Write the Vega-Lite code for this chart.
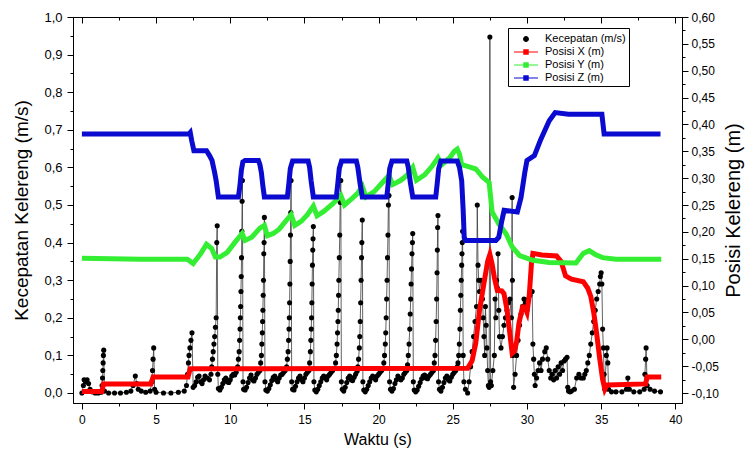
{
"$schema": "https://vega.github.io/schema/vega-lite/v6.json",
"width": 609, "height": 386,
"autosize": {"type": "none"},
"padding": {"left": 73, "top": 17, "right": 64, "bottom": 57},
"background": "white",
"config": {
 "view": {"stroke": "black", "strokeWidth": 1},
 "font": "Liberation Sans",
 "axis": {"grid": false, "domainColor": "black", "domainWidth": 1, "tickColor": "black", "tickWidth": 1, "labelColor": "black", "titleColor": "black", "labelFont": "Liberation Sans", "titleFont": "Liberation Sans", "titleFontWeight": "normal", "labelFontSize": 12, "titleFontSize": 15, "labelOverlap": false, "labelFlush": false}
},
"datasets": {
"speed": [
{"t":0,"v":0},{"t":0.1,"v":0.02},{"t":0.15,"v":0.035},{"t":0.25,"v":0.03},{"t":0.35,"v":0.035},{"t":0.45,"v":0.025},{"t":0.55,"v":0.01},{"t":0.7,"v":0.003},{"t":0.9,"v":0},{"t":1.1,"v":0},{"t":1.3,"v":0.002},{"t":1.36,"v":0.02},{"t":1.39,"v":0.04},{"t":1.41,"v":0.06},{"t":1.43,"v":0.08},{"t":1.45,"v":0.1},{"t":1.47,"v":0.114},{"t":1.52,"v":0.005},{"t":1.8,"v":0},{"t":2.2,"v":0},{"t":2.6,"v":0},{"t":3.0,"v":0.002},{"t":3.3,"v":0.005},{"t":3.45,"v":0.02},{"t":3.6,"v":0.045},{"t":3.7,"v":0.025},{"t":3.8,"v":0.01},{"t":4.0,"v":0.005},{"t":4.3,"v":0.002},{"t":4.6,"v":0.005},{"t":4.72,"v":0.03},{"t":4.76,"v":0.06},{"t":4.8,"v":0.09},{"t":4.84,"v":0.12},{"t":4.9,"v":0.01},{"t":5.0,"v":0.002},{"t":5.5,"v":0},{"t":6.0,"v":0},{"t":6.5,"v":0.002},{"t":6.9,"v":0.005},{"t":7.05,"v":0.02},{"t":7.12,"v":0.05},{"t":7.18,"v":0.08},{"t":7.22,"v":0.1},{"t":7.28,"v":0.12},{"t":7.35,"v":0.14},{"t":7.42,"v":0.16},{"t":7.5,"v":0.015},
{"t":7.6,"v":0.02},{"t":7.7,"v":0.03},{"t":7.8,"v":0.042},{"t":7.9,"v":0.045},{"t":8.0,"v":0.03},{"t":8.1,"v":0.025},{"t":8.2,"v":0.035},{"t":8.3,"v":0.045},{"t":8.45,"v":0.04},{"t":8.6,"v":0.035},{"t":8.7,"v":0.05},{"t":8.75,"v":0.07},{"t":8.8,"v":0.09},{"t":8.85,"v":0.11},{"t":8.9,"v":0.13},{"t":8.95,"v":0.15},{"t":9.0,"v":0.175},{"t":9.05,"v":0.2},{"t":9.09,"v":0.4},{"t":9.12,"v":0.445},
{"t":9.16,"v":0.05},{"t":9.2,"v":0.012},{"t":9.3,"v":0.008},{"t":9.4,"v":0.015},{"t":9.5,"v":0.025},{"t":9.6,"v":0.035},{"t":9.7,"v":0.04},{"t":9.8,"v":0.03},{"t":9.9,"v":0.028},{"t":10.0,"v":0.035},{"t":10.1,"v":0.045},{"t":10.2,"v":0.05},{"t":10.3,"v":0.048},{"t":10.4,"v":0.055},{"t":10.5,"v":0.07},{"t":10.55,"v":0.09},{"t":10.6,"v":0.11},{"t":10.63,"v":0.14},{"t":10.66,"v":0.17},{"t":10.68,"v":0.2},{"t":10.7,"v":0.23},{"t":10.72,"v":0.27},{"t":10.74,"v":0.31},{"t":10.76,"v":0.36},{"t":10.78,"v":0.43},{"t":10.8,"v":0.51},{"t":10.82,"v":0.565},
{"t":10.86,"v":0.03},{"t":10.9,"v":0.01},{"t":11.0,"v":0.008},{"t":11.1,"v":0.015},{"t":11.2,"v":0.028},{"t":11.3,"v":0.04},{"t":11.4,"v":0.048},{"t":11.5,"v":0.035},{"t":11.6,"v":0.032},{"t":11.7,"v":0.04},{"t":11.8,"v":0.05},{"t":11.9,"v":0.055},{"t":12.0,"v":0.06},{"t":12.05,"v":0.08},{"t":12.1,"v":0.1},{"t":12.13,"v":0.13},{"t":12.16,"v":0.16},{"t":12.18,"v":0.19},{"t":12.2,"v":0.22},{"t":12.22,"v":0.26},{"t":12.24,"v":0.3},{"t":12.26,"v":0.37},{"t":12.28,"v":0.4},{"t":12.3,"v":0.467},
{"t":12.34,"v":0.03},{"t":12.4,"v":0.008},{"t":12.5,"v":0.005},{"t":12.6,"v":0.012},{"t":12.7,"v":0.022},{"t":12.8,"v":0.033},{"t":12.9,"v":0.042},{"t":13.0,"v":0.045},{"t":13.1,"v":0.035},{"t":13.2,"v":0.03},{"t":13.3,"v":0.04},{"t":13.4,"v":0.048},{"t":13.5,"v":0.05},{"t":13.6,"v":0.055},{"t":13.7,"v":0.06},{"t":13.8,"v":0.07},{"t":13.85,"v":0.09},{"t":13.9,"v":0.11},{"t":13.93,"v":0.14},{"t":13.96,"v":0.17},{"t":13.98,"v":0.2},{"t":14.0,"v":0.24},{"t":14.02,"v":0.29},{"t":14.04,"v":0.35},{"t":14.06,"v":0.42},{"t":14.08,"v":0.48},{"t":14.1,"v":0.565},
{"t":14.14,"v":0.03},{"t":14.2,"v":0.01},{"t":14.3,"v":0.008},{"t":14.4,"v":0.018},{"t":14.5,"v":0.03},{"t":14.6,"v":0.04},{"t":14.7,"v":0.045},{"t":14.8,"v":0.035},{"t":14.9,"v":0.03},{"t":15.0,"v":0.04},{"t":15.1,"v":0.05},{"t":15.2,"v":0.055},{"t":15.3,"v":0.06},{"t":15.35,"v":0.08},{"t":15.4,"v":0.11},{"t":15.43,"v":0.14},{"t":15.46,"v":0.17},{"t":15.48,"v":0.2},{"t":15.5,"v":0.24},{"t":15.52,"v":0.29},{"t":15.54,"v":0.34},{"t":15.56,"v":0.38},{"t":15.58,"v":0.41},{"t":15.6,"v":0.443},
{"t":15.64,"v":0.03},{"t":15.7,"v":0.008},{"t":15.8,"v":0.003},{"t":15.9,"v":0.01},{"t":16.0,"v":0.02},{"t":16.1,"v":0.03},{"t":16.2,"v":0.04},{"t":16.3,"v":0.045},{"t":16.4,"v":0.04},{"t":16.5,"v":0.035},{"t":16.6,"v":0.045},{"t":16.7,"v":0.05},{"t":16.8,"v":0.055},{"t":16.9,"v":0.06},{"t":17.0,"v":0.065},{"t":17.1,"v":0.08},{"t":17.15,"v":0.1},{"t":17.2,"v":0.13},{"t":17.23,"v":0.16},{"t":17.26,"v":0.19},{"t":17.28,"v":0.22},{"t":17.3,"v":0.26},{"t":17.32,"v":0.3},{"t":17.35,"v":0.36},{"t":17.38,"v":0.42},{"t":17.41,"v":0.507},{"t":17.45,"v":0.565},
{"t":17.49,"v":0.03},{"t":17.55,"v":0.01},{"t":17.65,"v":0.005},{"t":17.75,"v":0.015},{"t":17.85,"v":0.028},{"t":17.95,"v":0.04},{"t":18.05,"v":0.045},{"t":18.15,"v":0.035},{"t":18.25,"v":0.033},{"t":18.35,"v":0.042},{"t":18.45,"v":0.05},{"t":18.55,"v":0.058},{"t":18.6,"v":0.07},{"t":18.65,"v":0.09},{"t":18.7,"v":0.12},{"t":18.73,"v":0.15},{"t":18.76,"v":0.19},{"t":18.79,"v":0.24},{"t":18.82,"v":0.3},{"t":18.85,"v":0.36},{"t":18.87,"v":0.4},{"t":18.9,"v":0.46},
{"t":18.94,"v":0.03},{"t":19.0,"v":0.008},{"t":19.1,"v":0.003},{"t":19.2,"v":0.01},{"t":19.3,"v":0.02},{"t":19.4,"v":0.03},{"t":19.5,"v":0.04},{"t":19.6,"v":0.045},{"t":19.7,"v":0.04},{"t":19.8,"v":0.035},{"t":19.9,"v":0.045},{"t":20.0,"v":0.05},{"t":20.1,"v":0.055},{"t":20.2,"v":0.06},{"t":20.3,"v":0.065},{"t":20.35,"v":0.08},{"t":20.4,"v":0.1},{"t":20.45,"v":0.13},{"t":20.48,"v":0.16},{"t":20.51,"v":0.2},{"t":20.54,"v":0.25},{"t":20.57,"v":0.3},{"t":20.6,"v":0.36},{"t":20.63,"v":0.42},{"t":20.66,"v":0.5},{"t":20.7,"v":0.525},
{"t":20.74,"v":0.03},{"t":20.8,"v":0.01},{"t":20.9,"v":0.005},{"t":21.0,"v":0.012},{"t":21.1,"v":0.025},{"t":21.2,"v":0.035},{"t":21.3,"v":0.045},{"t":21.4,"v":0.04},{"t":21.5,"v":0.035},{"t":21.6,"v":0.04},{"t":21.7,"v":0.05},{"t":21.8,"v":0.055},{"t":21.9,"v":0.06},{"t":21.95,"v":0.075},{"t":22.0,"v":0.1},{"t":22.05,"v":0.13},{"t":22.1,"v":0.17},{"t":22.13,"v":0.21},{"t":22.16,"v":0.25},{"t":22.19,"v":0.29},{"t":22.22,"v":0.33},{"t":22.25,"v":0.37},{"t":22.28,"v":0.4},{"t":22.3,"v":0.424},
{"t":22.34,"v":0.03},{"t":22.4,"v":0.008},{"t":22.5,"v":0.003},{"t":22.6,"v":0.008},{"t":22.7,"v":0.018},{"t":22.8,"v":0.028},{"t":22.9,"v":0.038},{"t":23.0,"v":0.045},{"t":23.1,"v":0.048},{"t":23.2,"v":0.04},{"t":23.3,"v":0.038},{"t":23.4,"v":0.045},{"t":23.5,"v":0.05},{"t":23.6,"v":0.055},{"t":23.7,"v":0.06},{"t":23.75,"v":0.08},{"t":23.8,"v":0.1},{"t":23.84,"v":0.14},{"t":23.88,"v":0.19},{"t":23.91,"v":0.25},{"t":23.94,"v":0.32},{"t":23.96,"v":0.38},{"t":23.98,"v":0.44},{"t":24.0,"v":0.472},
{"t":24.04,"v":0.03},{"t":24.1,"v":0.01},{"t":24.2,"v":0.005},{"t":24.3,"v":0.015},{"t":24.4,"v":0.028},{"t":24.5,"v":0.04},{"t":24.6,"v":0.045},{"t":24.7,"v":0.035},{"t":24.8,"v":0.032},{"t":24.9,"v":0.042},{"t":25.0,"v":0.05},{"t":25.1,"v":0.055},{"t":25.2,"v":0.06},{"t":25.3,"v":0.07},
{"t":25.35,"v":0.08},{"t":25.4,"v":0.1},{"t":25.44,"v":0.13},{"t":25.48,"v":0.17},{"t":25.51,"v":0.22},{"t":25.54,"v":0.26},{"t":25.57,"v":0.3},{"t":25.6,"v":0.34},{"t":25.62,"v":0.37},{"t":25.64,"v":0.4},{"t":25.66,"v":0.43},{"t":25.7,"v":0.1},{"t":25.75,"v":0.03},{"t":25.85,"v":0.01},{"t":26.0,"v":0.0},{"t":26.1,"v":0.03},{"t":26.2,"v":0.07},{"t":26.3,"v":0.11},{"t":26.4,"v":0.15},{"t":26.5,"v":0.19},{"t":26.6,"v":0.23},{"t":26.65,"v":0.5},{"t":26.7,"v":0.34},{"t":26.75,"v":0.3},{"t":26.8,"v":0.27},{"t":26.9,"v":0.3},{"t":27.0,"v":0.25},{"t":27.05,"v":0.2},{"t":27.1,"v":0.15},{"t":27.15,"v":0.1},{"t":27.2,"v":0.23},{"t":27.25,"v":0.18},{"t":27.3,"v":0.12},{"t":27.35,"v":0.06},{"t":27.4,"v":0.02},{"t":27.45,"v":0.015},{"t":27.5,"v":0.947},{"t":27.55,"v":0.03},{"t":27.6,"v":0.02},{"t":27.7,"v":0.06},{"t":27.8,"v":0.1},{"t":27.85,"v":0.25},{"t":27.9,"v":0.2},{"t":27.95,"v":0.3},{"t":28.0,"v":0.28},{"t":28.05,"v":0.37},{"t":28.1,"v":0.22},{"t":28.15,"v":0.15},{"t":28.25,"v":0.12},{"t":28.35,"v":0.15},{"t":28.45,"v":0.18},{"t":28.55,"v":0.2},{"t":28.65,"v":0.22},{"t":28.75,"v":0.24},{"t":28.85,"v":0.25},{"t":28.95,"v":0.2},{"t":29.0,"v":0.52},{"t":29.02,"v":0.3},{"t":29.05,"v":0.1},{"t":29.1,"v":0.015},{"t":29.2,"v":0.05},{"t":29.3,"v":0.1},{"t":29.4,"v":0.14},{"t":29.5,"v":0.18},{"t":29.6,"v":0.21},{"t":29.7,"v":0.23},{"t":29.8,"v":0.25},{"t":29.9,"v":0.24},{"t":30.0,"v":0.22},{"t":30.1,"v":0.25},{"t":30.2,"v":0.26},{"t":30.35,"v":0.27},{"t":30.4,"v":0.13},{"t":30.45,"v":0.09},{"t":30.5,"v":0.05},{"t":30.55,"v":0.02},{"t":30.65,"v":0.04},{"t":30.75,"v":0.06},{"t":30.85,"v":0.08},{"t":30.95,"v":0.06},{"t":31.05,"v":0.09},{"t":31.2,"v":0.11},{"t":31.3,"v":0.12},{"t":31.4,"v":0.09},{"t":31.5,"v":0.06},{"t":31.6,"v":0.04},{"t":31.7,"v":0.05},{"t":31.8,"v":0.035},{"t":31.9,"v":0.06},{"t":32.0,"v":0.04},{"t":32.1,"v":0.07},{"t":32.2,"v":0.05},{"t":32.3,"v":0.08},{"t":32.4,"v":0.06},{"t":32.5,"v":0.085},{"t":32.6,"v":0.09},{"t":32.7,"v":0.095},{"t":32.75,"v":0.015},{"t":32.8,"v":0.005},{"t":32.9,"v":0.003},{"t":33.0,"v":0.005},{"t":33.2,"v":0.01},{"t":33.35,"v":0.04},{"t":33.5,"v":0.05},{"t":33.65,"v":0.04},{"t":33.8,"v":0.04},{"t":33.9,"v":0.05},{"t":34.0,"v":0.06},{"t":34.1,"v":0.08},{"t":34.2,"v":0.1},{"t":34.3,"v":0.13},{"t":34.4,"v":0.16},{"t":34.5,"v":0.19},{"t":34.6,"v":0.22},{"t":34.7,"v":0.25},{"t":34.8,"v":0.27},{"t":34.9,"v":0.29},{"t":34.95,"v":0.31},{"t":35.0,"v":0.32},{"t":35.05,"v":0.29},{"t":35.1,"v":0.17},{"t":35.15,"v":0.12},{"t":35.2,"v":0.05},{"t":35.25,"v":0.01},{"t":35.35,"v":0.1},{"t":35.4,"v":0.12},{"t":35.45,"v":0.08},{"t":35.5,"v":0.01},{"t":35.7,"v":0.003},{"t":36.0,"v":0.003},{"t":36.4,"v":0.003},{"t":36.7,"v":0.01},{"t":36.8,"v":0.04},{"t":36.9,"v":0.01},{"t":37.2,"v":0.003},{"t":37.6,"v":0.003},{"t":37.9,"v":0.01},{"t":37.95,"v":0.05},{"t":38.0,"v":0.09},{"t":38.03,"v":0.12},{"t":38.1,"v":0.02},{"t":38.3,"v":0.01},{"t":38.6,"v":0.005},{"t":39.0,"v":0.003}
],
"pos": [
{"s":"Posisi X (m)","t":0,"p":-0.097},{"s":"Posisi X (m)","t":1.35,"p":-0.097},{"s":"Posisi X (m)","t":1.45,"p":-0.083},{"s":"Posisi X (m)","t":4.65,"p":-0.083},{"s":"Posisi X (m)","t":4.8,"p":-0.07},{"s":"Posisi X (m)","t":7.15,"p":-0.07},{"s":"Posisi X (m)","t":7.3,"p":-0.055},{"s":"Posisi X (m)","t":26.0,"p":-0.054},{"s":"Posisi X (m)","t":26.3,"p":-0.04},{"s":"Posisi X (m)","t":26.55,"p":-0.007},{"s":"Posisi X (m)","t":26.8,"p":0.054},{"s":"Posisi X (m)","t":27.1,"p":0.104},{"s":"Posisi X (m)","t":27.35,"p":0.145},{"s":"Posisi X (m)","t":27.5,"p":0.158},{"s":"Posisi X (m)","t":27.65,"p":0.14},{"s":"Posisi X (m)","t":27.8,"p":0.115},{"s":"Posisi X (m)","t":28.0,"p":0.091},{"s":"Posisi X (m)","t":28.3,"p":0.09},{"s":"Posisi X (m)","t":28.45,"p":0.085},{"s":"Posisi X (m)","t":28.66,"p":0.054},{"s":"Posisi X (m)","t":28.85,"p":0.01},{"s":"Posisi X (m)","t":29.0,"p":-0.026},{"s":"Posisi X (m)","t":29.15,"p":-0.022},{"s":"Posisi X (m)","t":29.3,"p":-0.005},{"s":"Posisi X (m)","t":29.46,"p":0.03},{"s":"Posisi X (m)","t":29.7,"p":0.06},{"s":"Posisi X (m)","t":29.85,"p":0.06},{"s":"Posisi X (m)","t":30.0,"p":0.05},{"s":"Posisi X (m)","t":30.15,"p":0.08},{"s":"Posisi X (m)","t":30.3,"p":0.14},{"s":"Posisi X (m)","t":30.4,"p":0.16},{"s":"Posisi X (m)","t":31.0,"p":0.157},{"s":"Posisi X (m)","t":32.0,"p":0.155},{"s":"Posisi X (m)","t":32.3,"p":0.145},{"s":"Posisi X (m)","t":32.6,"p":0.118},{"s":"Posisi X (m)","t":33.0,"p":0.112},{"s":"Posisi X (m)","t":33.8,"p":0.107},{"s":"Posisi X (m)","t":34.1,"p":0.095},{"s":"Posisi X (m)","t":34.3,"p":0.08},{"s":"Posisi X (m)","t":34.5,"p":0.05},{"s":"Posisi X (m)","t":34.7,"p":0.01},{"s":"Posisi X (m)","t":34.9,"p":-0.035},{"s":"Posisi X (m)","t":35.1,"p":-0.075},{"s":"Posisi X (m)","t":35.25,"p":-0.093},{"s":"Posisi X (m)","t":35.4,"p":-0.085},{"s":"Posisi X (m)","t":38.0,"p":-0.083},{"s":"Posisi X (m)","t":38.1,"p":-0.07},{"s":"Posisi X (m)","t":39.05,"p":-0.07},
{"s":"Posisi Y (m)","t":0,"p":0.151},{"s":"Posisi Y (m)","t":2,"p":0.15},{"s":"Posisi Y (m)","t":4,"p":0.149},{"s":"Posisi Y (m)","t":6,"p":0.149},{"s":"Posisi Y (m)","t":7.1,"p":0.149},{"s":"Posisi Y (m)","t":7.5,"p":0.141},{"s":"Posisi Y (m)","t":8.0,"p":0.159},{"s":"Posisi Y (m)","t":8.4,"p":0.177},{"s":"Posisi Y (m)","t":8.75,"p":0.169},{"s":"Posisi Y (m)","t":9.0,"p":0.153},{"s":"Posisi Y (m)","t":9.3,"p":0.153},{"s":"Posisi Y (m)","t":9.8,"p":0.162},{"s":"Posisi Y (m)","t":10.3,"p":0.18},{"s":"Posisi Y (m)","t":10.8,"p":0.197},{"s":"Posisi Y (m)","t":11.0,"p":0.184},{"s":"Posisi Y (m)","t":11.45,"p":0.19},{"s":"Posisi Y (m)","t":12.0,"p":0.207},{"s":"Posisi Y (m)","t":12.3,"p":0.212},{"s":"Posisi Y (m)","t":12.5,"p":0.193},{"s":"Posisi Y (m)","t":12.9,"p":0.197},{"s":"Posisi Y (m)","t":13.3,"p":0.205},{"s":"Posisi Y (m)","t":13.8,"p":0.222},{"s":"Posisi Y (m)","t":14.1,"p":0.232},{"s":"Posisi Y (m)","t":14.35,"p":0.212},{"s":"Posisi Y (m)","t":14.8,"p":0.22},{"s":"Posisi Y (m)","t":15.2,"p":0.232},{"s":"Posisi Y (m)","t":15.6,"p":0.248},{"s":"Posisi Y (m)","t":15.85,"p":0.23},{"s":"Posisi Y (m)","t":16.3,"p":0.238},{"s":"Posisi Y (m)","t":16.9,"p":0.252},{"s":"Posisi Y (m)","t":17.45,"p":0.268},{"s":"Posisi Y (m)","t":17.7,"p":0.25},{"s":"Posisi Y (m)","t":18.2,"p":0.262},{"s":"Posisi Y (m)","t":18.6,"p":0.272},{"s":"Posisi Y (m)","t":18.9,"p":0.285},{"s":"Posisi Y (m)","t":19.15,"p":0.265},{"s":"Posisi Y (m)","t":19.7,"p":0.275},{"s":"Posisi Y (m)","t":20.2,"p":0.29},{"s":"Posisi Y (m)","t":20.7,"p":0.305},{"s":"Posisi Y (m)","t":20.95,"p":0.288},{"s":"Posisi Y (m)","t":21.5,"p":0.296},{"s":"Posisi Y (m)","t":21.9,"p":0.305},{"s":"Posisi Y (m)","t":22.3,"p":0.32},{"s":"Posisi Y (m)","t":22.55,"p":0.296},{"s":"Posisi Y (m)","t":23.1,"p":0.306},{"s":"Posisi Y (m)","t":23.6,"p":0.322},{"s":"Posisi Y (m)","t":24.0,"p":0.338},{"s":"Posisi Y (m)","t":24.25,"p":0.325},{"s":"Posisi Y (m)","t":24.8,"p":0.338},{"s":"Posisi Y (m)","t":25.1,"p":0.35},{"s":"Posisi Y (m)","t":25.3,"p":0.354},{"s":"Posisi Y (m)","t":25.45,"p":0.345},{"s":"Posisi Y (m)","t":25.6,"p":0.325},{"s":"Posisi Y (m)","t":26.0,"p":0.322},{"s":"Posisi Y (m)","t":26.55,"p":0.317},{"s":"Posisi Y (m)","t":27.0,"p":0.302},{"s":"Posisi Y (m)","t":27.45,"p":0.292},{"s":"Posisi Y (m)","t":27.55,"p":0.265},{"s":"Posisi Y (m)","t":27.65,"p":0.237},{"s":"Posisi Y (m)","t":28.1,"p":0.215},{"s":"Posisi Y (m)","t":28.6,"p":0.196},{"s":"Posisi Y (m)","t":29.0,"p":0.172},{"s":"Posisi Y (m)","t":29.5,"p":0.156},{"s":"Posisi Y (m)","t":30.4,"p":0.147},{"s":"Posisi Y (m)","t":31.5,"p":0.143},{"s":"Posisi Y (m)","t":33.3,"p":0.142},{"s":"Posisi Y (m)","t":33.8,"p":0.16},{"s":"Posisi Y (m)","t":34.2,"p":0.165},{"s":"Posisi Y (m)","t":34.6,"p":0.158},{"s":"Posisi Y (m)","t":35.1,"p":0.152},{"s":"Posisi Y (m)","t":36,"p":0.149},{"s":"Posisi Y (m)","t":39.05,"p":0.149},
{"s":"Posisi Z (m)","t":0,"p":0.382},{"s":"Posisi Z (m)","t":7.2,"p":0.382},{"s":"Posisi Z (m)","t":7.3,"p":0.385},{"s":"Posisi Z (m)","t":7.4,"p":0.37},{"s":"Posisi Z (m)","t":7.55,"p":0.351},{"s":"Posisi Z (m)","t":8.4,"p":0.351},{"s":"Posisi Z (m)","t":8.6,"p":0.342},{"s":"Posisi Z (m)","t":8.77,"p":0.333},{"s":"Posisi Z (m)","t":8.95,"p":0.31},{"s":"Posisi Z (m)","t":9.05,"p":0.295},{"s":"Posisi Z (m)","t":9.2,"p":0.265},{"s":"Posisi Z (m)","t":10.55,"p":0.265},{"s":"Posisi Z (m)","t":10.65,"p":0.285},{"s":"Posisi Z (m)","t":10.75,"p":0.315},{"s":"Posisi Z (m)","t":10.85,"p":0.33},{"s":"Posisi Z (m)","t":11.0,"p":0.333},{"s":"Posisi Z (m)","t":11.9,"p":0.333},{"s":"Posisi Z (m)","t":12.0,"p":0.325},{"s":"Posisi Z (m)","t":12.1,"p":0.31},{"s":"Posisi Z (m)","t":12.2,"p":0.285},{"s":"Posisi Z (m)","t":12.3,"p":0.265},{"s":"Posisi Z (m)","t":13.85,"p":0.265},{"s":"Posisi Z (m)","t":13.95,"p":0.29},{"s":"Posisi Z (m)","t":14.05,"p":0.318},{"s":"Posisi Z (m)","t":14.2,"p":0.332},{"s":"Posisi Z (m)","t":15.25,"p":0.332},{"s":"Posisi Z (m)","t":15.35,"p":0.32},{"s":"Posisi Z (m)","t":15.45,"p":0.295},{"s":"Posisi Z (m)","t":15.6,"p":0.265},{"s":"Posisi Z (m)","t":17.15,"p":0.265},{"s":"Posisi Z (m)","t":17.25,"p":0.29},{"s":"Posisi Z (m)","t":17.35,"p":0.318},{"s":"Posisi Z (m)","t":17.5,"p":0.332},{"s":"Posisi Z (m)","t":18.5,"p":0.332},{"s":"Posisi Z (m)","t":18.6,"p":0.32},{"s":"Posisi Z (m)","t":18.75,"p":0.29},{"s":"Posisi Z (m)","t":18.9,"p":0.265},{"s":"Posisi Z (m)","t":20.55,"p":0.265},{"s":"Posisi Z (m)","t":20.65,"p":0.29},{"s":"Posisi Z (m)","t":20.75,"p":0.318},{"s":"Posisi Z (m)","t":20.9,"p":0.332},{"s":"Posisi Z (m)","t":21.9,"p":0.332},{"s":"Posisi Z (m)","t":22.0,"p":0.32},{"s":"Posisi Z (m)","t":22.15,"p":0.29},{"s":"Posisi Z (m)","t":22.3,"p":0.265},{"s":"Posisi Z (m)","t":23.85,"p":0.265},{"s":"Posisi Z (m)","t":23.95,"p":0.29},{"s":"Posisi Z (m)","t":24.05,"p":0.318},{"s":"Posisi Z (m)","t":24.2,"p":0.332},{"s":"Posisi Z (m)","t":25.3,"p":0.332},{"s":"Posisi Z (m)","t":25.45,"p":0.32},{"s":"Posisi Z (m)","t":25.6,"p":0.295},{"s":"Posisi Z (m)","t":25.7,"p":0.24},{"s":"Posisi Z (m)","t":25.77,"p":0.19},{"s":"Posisi Z (m)","t":25.85,"p":0.184},{"s":"Posisi Z (m)","t":27.9,"p":0.184},{"s":"Posisi Z (m)","t":28.1,"p":0.19},{"s":"Posisi Z (m)","t":28.3,"p":0.22},{"s":"Posisi Z (m)","t":28.46,"p":0.24},{"s":"Posisi Z (m)","t":29.35,"p":0.237},{"s":"Posisi Z (m)","t":29.6,"p":0.264},{"s":"Posisi Z (m)","t":29.85,"p":0.31},{"s":"Posisi Z (m)","t":30.0,"p":0.333},{"s":"Posisi Z (m)","t":30.5,"p":0.342},{"s":"Posisi Z (m)","t":30.9,"p":0.37},{"s":"Posisi Z (m)","t":31.5,"p":0.407},{"s":"Posisi Z (m)","t":31.9,"p":0.422},{"s":"Posisi Z (m)","t":32.8,"p":0.419},{"s":"Posisi Z (m)","t":35.05,"p":0.419},{"s":"Posisi Z (m)","t":35.2,"p":0.382},{"s":"Posisi Z (m)","t":39.0,"p":0.382}
]
},
"layer": [
 {
  "data": {"name": "speed"},
  "mark": {"type": "line", "color": "#3a3a3a", "strokeWidth": 0.8},
  "encoding": {
   "x": {"field": "t", "type": "quantitative", "scale": {"domain": [-0.6, 40.45], "nice": false, "zero": false},
     "axis": {"orient": "bottom", "title": "Waktu (s)", "values": [0,2.5,5,7.5,10,12.5,15,17.5,20,22.5,25,27.5,30,32.5,35,37.5,40],
       "labelExpr": "datum.value % 5 === 0 ? format(datum.value, 'd') : ''",
       "tickSize": {"condition": {"test": "datum.value % 5 !== 0", "value": 3}, "value": 6},
       "labelPadding": 5, "titlePadding": 6, "labelFontSize": 12, "titleFontSize": 16}},
   "y": {"field": "v", "type": "quantitative", "scale": {"domain": [-0.0266, 1.0], "nice": false, "zero": false},
     "axis": {"orient": "left", "title": "Kecepatan Kelereng (m/s)", "values": [0,0.05,0.1,0.15,0.2,0.25,0.3,0.35,0.4,0.45,0.5,0.55,0.6,0.65,0.7,0.75,0.8,0.85,0.9,0.95,1.0],
       "labelExpr": "round(datum.value*100) % 10 === 0 ? replace(format(datum.value, '.1f'), '.', ',') : ''",
       "tickSize": {"condition": {"test": "round(datum.value*100) % 10 !== 0", "value": 3}, "value": 6},
       "labelPadding": 5, "titlePadding": 12, "labelFontSize": 13, "titleFontSize": 19}}
  }
 },
 {
  "data": {"name": "speed"},
  "mark": {"type": "point", "filled": true, "size": 26, "opacity": 1},
  "encoding": {
   "x": {"field": "t", "type": "quantitative", "axis": null},
   "y": {"field": "v", "type": "quantitative", "scale": {"domain": [-0.0266, 1.0], "nice": false, "zero": false}, "axis": null},
   "color": {"datum": "Kecepatan (m/s)", "type": "nominal"}
  }
 },
 {
  "data": {"name": "pos"},
  "mark": {"type": "line", "strokeWidth": 5},
  "encoding": {
   "x": {"field": "t", "type": "quantitative",
     "axis": {"orient": "top", "title": null, "labels": false, "domain": false, "values": [0,2.5,5,7.5,10,12.5,15,17.5,20,22.5,25,27.5,30,32.5,35,37.5,40],
       "tickSize": {"condition": {"test": "datum.value % 5 !== 0", "value": -3}, "value": -6}}},
   "y": {"field": "p", "type": "quantitative", "scale": {"domain": [-0.1186, 0.6], "nice": false, "zero": false},
     "axis": {"orient": "right", "title": "Posisi Kelereng (m)", "titleAngle": 270, "titleBaseline": "top", "values": [-0.1,-0.075,-0.05,-0.025,0,0.025,0.05,0.075,0.1,0.125,0.15,0.175,0.2,0.225,0.25,0.275,0.3,0.325,0.35,0.375,0.4,0.425,0.45,0.475,0.5,0.525,0.55,0.575,0.6],
       "labelExpr": "round(datum.value*1000) % 50 === 0 ? replace(replace(format(datum.value, '.2f'), '.', ','), '\u2212', '-') : ''",
       "tickSize": {"condition": {"test": "round(datum.value*1000) % 50 !== 0", "value": 3}, "value": 6},
       "labelPadding": 3, "titlePadding": 5, "labelFontSize": 12, "titleFontSize": 20}},
   "color": {"field": "s", "type": "nominal",
     "scale": {"domain": ["Kecepatan (m/s)", "Posisi X (m)", "Posisi Y (m)", "Posisi Z (m)"], "range": ["#000000", "#ff0000", "#33ee33", "#0a0ad0"]},
     "legend": {"title": null, "orient": "none", "legendX": 435, "legendY": 11, "strokeColor": "black", "padding": 3, "rowPadding": 0,
       "symbolOffset": 7, "labelOffset": 11,
       "labelFont": "Liberation Sans", "labelFontSize": 11, "labelColor": "black", "symbolSize": 200,
       "encode": {"symbols": {"update": {
         "shape": {"signal": "datum.value === 'Kecepatan (m/s)' ? 'circle' : 'M-1.7,0H1.7M-0.3,-0.3H0.3V0.3H-0.3Z'"},
         "size": {"signal": "datum.value === 'Kecepatan (m/s)' ? 22 : 200"},
         "fill": {"scale": "color", "field": "value"},
         "stroke": {"scale": "color", "field": "value"},
         "strokeWidth": {"value": 1.2},
         "opacity": {"value": 1}
       }}}}}
  }
 }
],
"resolve": {"scale": {"y": "independent"}, "axis": {"x": "independent", "y": "independent"}}
}
